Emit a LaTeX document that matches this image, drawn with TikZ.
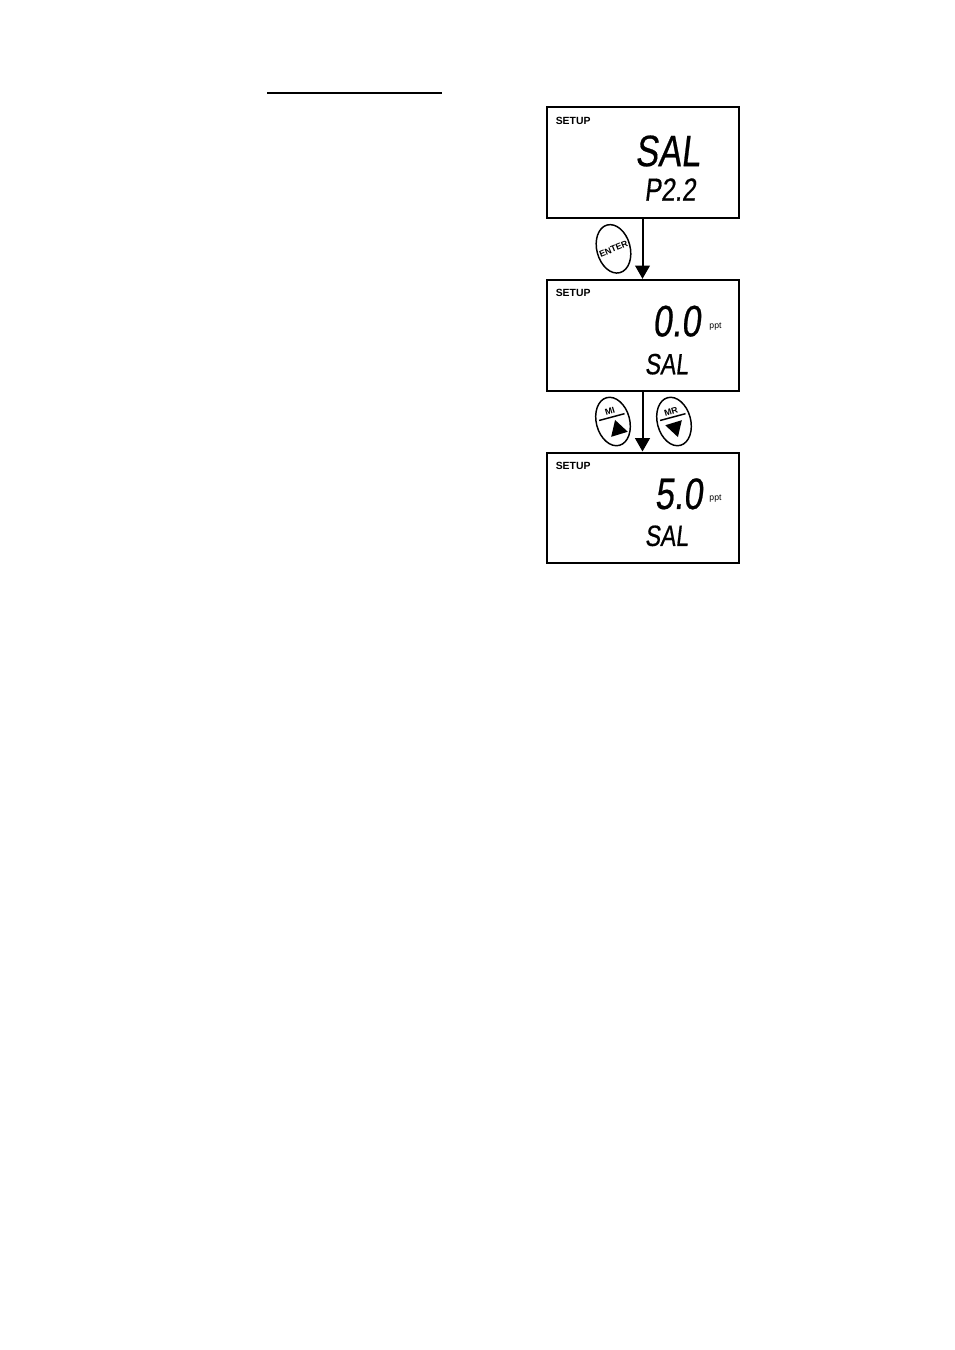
\documentclass[tikz,border=0pt]{standalone}
\usepackage{fontspec}
\setmainfont{Liberation Sans}
\newfontfamily\lcdfont[FakeStretch=0.78,FakeSlant=0.12,FakeBold=0.5]{Liberation Sans}
\usetikzlibrary{arrows.meta,positioning,calc,shapes.geometric}

\begin{document}
\begin{tikzpicture}[
	x=0.75pt,y=0.75pt,
	>={Triangle[length=10pt,width=11pt]},
	panel/.style={
		draw,
		line width=1.5pt,
		minimum width=144pt,
		minimum height=83pt
	},
	tag/.style={
		inner sep=0pt,
		font=\fontsize{7.8}{9}\selectfont\bfseries
	},
	lcdbig/.style={
		inner sep=0pt,
		font=\fontsize{33}{36}\selectfont\lcdfont
	},
	lcdsmall/.style={
		inner sep=0pt,
		font=\fontsize{22}{24}\selectfont\lcdfont
	},
	unitlabel/.style={
		inner sep=0pt,
		font=\fontsize{6.5}{8}\selectfont
	},
	keybtn/.style={
		draw,
		ellipse,
		line width=1.1pt,
		inner sep=0pt,
		minimum width=25pt,
		minimum height=37pt,
		rotate=15
	},
	keytext/.style={
		inner sep=0pt,
		rotate=17,
		font=\fontsize{6.6}{8}\selectfont\bfseries
	},
	keymark/.style={
		regular polygon,
		regular polygon sides=3,
		fill=black,
		inner sep=0pt,
		minimum size=15pt
	}
	]
	
	\useasboundingbox (0,0) rectangle (954,-1350);
	
	\coordinate (ruleL) at (267,-93);
	\coordinate (ruleR) at (442,-93);
	\draw[line width=0.9pt] (ruleL) -- (ruleR);
	
	\node[panel] (panelA) at (642.5,-162.5) {};
	\node[panel,below=45pt of panelA] (panelB) {};
	\node[panel,below=45pt of panelB] (panelC) {};
	
	\node[tag,below right=7.8pt and 7.5pt of panelA.north west] (setupA) {SETUP};
	\node[tag,below right=7.8pt and 7.5pt of panelB.north west] (setupB) {SETUP};
	\node[tag,below right=7.8pt and 7.5pt of panelC.north west] (setupC) {SETUP};
	
	\node[lcdbig] (salA) at ($(panelA.center)+(25,11.5)$) {SAL};
	\node[lcdsmall,font=\fontsize{24}{26}\selectfont\lcdfont] (codeA) at ($(panelA.center)+(27.5,-27)$) {P2.2};
	
	\node[lcdbig] (valB) at ($(panelB.center)+(34,14)$) {0.0};
	\node[unitlabel] (pptB) at ($(panelB.center)+(73,9)$) {ppt};
	\node[lcdsmall] (salB) at ($(panelB.center)+(24,-29)$) {SAL};
	
	\node[lcdbig] (valC) at ($(panelC.center)+(36,14)$) {5.0};
	\node[unitlabel] (pptC) at ($(panelC.center)+(73,9.5)$) {ppt};
	\node[lcdsmall] (salC) at ($(panelC.center)+(24,-28)$) {SAL};
	
	\draw[->,line width=1.5pt] (panelA.south) -- (panelB.north);
	\draw[->,line width=1.5pt] (panelB.south) -- (panelC.north);
	
	\coordinate (gapA) at ($(panelA.south)!0.5!(panelB.north)$);
	\coordinate (gapB) at ($(panelB.south)!0.5!(panelC.north)$);
	
	\node[keybtn] (keyenter) at ($(gapA)+(-29,0)$) {};
	\node[keytext,rotate=5] (enterlabel) at (keyenter.center) {ENTER};
	
	\node[keybtn] (keymi) at ($(gapB)+(-29.5,0)$) {};
	\node[keytext] (milabel) at ($(keymi.center)+(-3,10)$) {MI};
	\draw[line width=1.1pt,shorten >=3pt,shorten <=3pt] (keymi.165) -- (keymi.15);
	\node[keymark,rotate=17] (miup) at ($(keymi.center)+(5,-8)$) {};
	
	\node[keybtn] (keymr) at ($(gapB)+(31.5,0)$) {};
	\node[keytext] (mrlabel) at ($(keymr.center)+(-3,10)$) {MR};
	\draw[line width=1.1pt,shorten >=3pt,shorten <=3pt] (keymr.165) -- (keymr.15);
	\node[keymark,rotate=197] (mrdown) at ($(keymr.center)+(1,-6)$) {};
	
\end{tikzpicture}
\end{document}
